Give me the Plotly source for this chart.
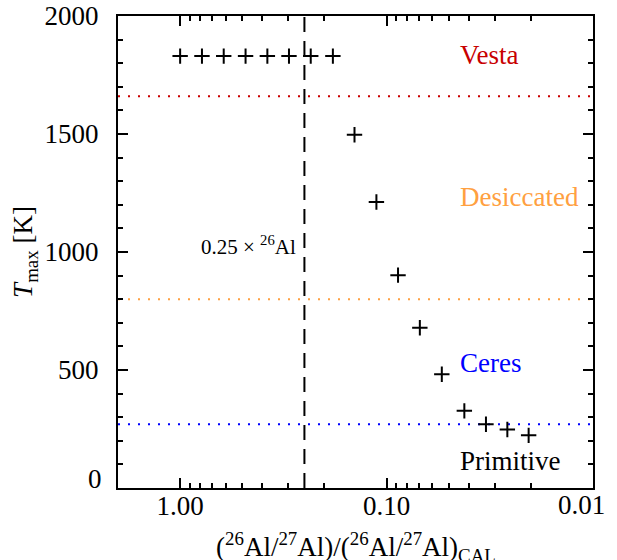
import numpy as np
import plotly.graph_objects as go

# Initial 26Al abundance relative to CAL value, and peak temperature reached
al_ratio = [1.00, 0.784, 0.615, 0.482, 0.378, 0.297, 0.233, 0.182,
            0.143, 0.112, 0.088, 0.069, 0.054, 0.042, 0.033, 0.026, 0.0205]
t_max = [1830, 1830, 1830, 1830, 1830, 1830, 1830, 1830,
         1497, 1212, 902, 679, 482, 327, 270, 248, 223]

# Temperature thresholds separating the body classes
vesta_t = 1660
desiccated_t = 800
ceres_t = 270
reduced_al = 0.25

class_names = ["Vesta", "Desiccated", "Ceres", "Primitive"]
class_colors = ["#c80000", "#ffa040", "#0000ff", "#000000"]
class_ypos = [0.917, 0.617, 0.264, 0.057]

x_lo, x_hi = 2.0, 0.01
y_lo, y_hi = 0, 2000

FONT = "Liberation Serif"

fig = go.Figure()

# Threshold lines (dotted)
for t, c in zip([vesta_t, desiccated_t, ceres_t], class_colors[:3]):
    fig.add_trace(go.Scatter(
        x=[x_lo, x_hi], y=[t, t], mode="lines",
        line=dict(color=c, width=2, dash="2px,8px"),
        hoverinfo="skip", showlegend=False))

# Reduced-26Al reference line (dashed)
fig.add_trace(go.Scatter(
    x=[reduced_al, reduced_al], y=[y_lo, y_hi], mode="lines",
    line=dict(color="black", width=2, dash="15px,9px"),
    hoverinfo="skip", showlegend=False))

# Model results
fig.add_trace(go.Scatter(
    x=al_ratio, y=t_max, mode="markers",
    marker=dict(symbol="cross-thin", size=11, color="black",
                line=dict(color="black", width=2)),
    showlegend=False, cliponaxis=False))

annotations = []
for name, col, yp in zip(class_names, class_colors, class_ypos):
    annotations.append(dict(
        text=name, xref="paper", yref="paper", x=0.716, y=yp,
        xanchor="left", yanchor="middle", showarrow=False,
        font=dict(family=FONT, size=27, color=col)))

annotations.append(dict(
    text="0.25 × <sup>26</sup>Al", xref="paper", yref="paper",
    x=0.379, y=0.513, xanchor="right", yanchor="middle", showarrow=False,
    font=dict(family=FONT, size=21, color="black")))

# Lowest y label sits slightly raised off the bottom axis
annotations.append(dict(
    text="0", xref="paper", yref="y", x=0, y=0, xshift=-14, yshift=9,
    xanchor="right", yanchor="middle", showarrow=False,
    font=dict(family=FONT, size=27, color="black")))

# Last x label pulled in from the right edge
annotations.append(dict(
    text="0.01", xref="paper", yref="paper", x=1, y=0, xshift=-12, yshift=-17,
    xanchor="center", yanchor="middle", showarrow=False,
    font=dict(family=FONT, size=27, color="black")))

# x-axis title, sitting low against the bottom edge
annotations.append(dict(
    text="(<sup>26</sup>Al/<sup>27</sup>Al)/(<sup>26</sup>Al/<sup>27</sup>Al)<sub>CAL</sub>",
    xref="paper", yref="paper", x=0.5, y=-0.126, xanchor="center",
    yanchor="middle", showarrow=False,
    font=dict(family=FONT, size=27, color="black")))

axis_common = dict(
    showline=True, linecolor="black", linewidth=2, mirror="allticks",
    ticks="inside", tickcolor="black", tickwidth=1.5, ticklen=10,
    showgrid=False, zeroline=False, automargin=False,
    tickfont=dict(family=FONT, size=27, color="black"),
)

fig.update_layout(
    width=617, height=560,
    margin=dict(l=118, r=24, t=16, b=72),
    paper_bgcolor="white", plot_bgcolor="white",
    font=dict(family=FONT, color="black"),
    annotations=annotations,
    xaxis=dict(
        type="log", range=[np.log10(x_lo), np.log10(x_hi)],
        tickmode="array", tickvals=[1.0, 0.1, 0.01],
        ticktext=["1.00", "0.10", ""],
        minor=dict(ticks="inside", ticklen=5, tickwidth=1.5,
                   tickcolor="black", dtick="D1", showgrid=False),
        ticklabelstandoff=-7,
        **axis_common),
    yaxis=dict(
        range=[y_lo, y_hi],
        tickmode="array", tickvals=[0, 500, 1000, 1500, 2000],
        ticktext=["", "500", "1000", "1500", "2000"],
        minor=dict(ticks="inside", ticklen=5, tickwidth=1.5,
                   tickcolor="black", dtick=100, showgrid=False),
        ticklabelstandoff=12,
        title=dict(text="<i>T</i><sub>max</sub> [K]",
                   font=dict(family=FONT, size=27), standoff=4),
        **axis_common),
)

fig.write_html("out.html")
